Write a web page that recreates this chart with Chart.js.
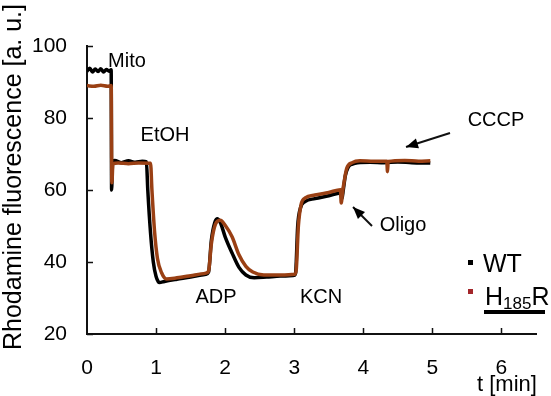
<!DOCTYPE html>
<html>
<head>
<meta charset="utf-8">
<script src="https://cdn.jsdelivr.net/npm/chart.js@4.4.1/dist/chart.umd.min.js"></script>
<style>
  body { margin: 0; background: #fff; }
  #wrap { width: 551px; height: 396px; }
</style>
</head>
<body>
<div id="wrap"><canvas id="c" width="551" height="396"></canvas></div>
<script>
// time [min] and rhodamine fluorescence [a. u.]
const wtT = [0, 0.04, 0.08, 0.12, 0.16, 0.2, 0.24, 0.28, 0.32, 0.35, 0.356, 0.37, 0.4, 0.5, 0.6, 0.7, 0.8, 0.86,
  0.88, 0.92, 0.96, 1.0, 1.05, 1.12, 1.3, 1.5, 1.72, 1.76, 1.8, 1.85, 1.89, 1.94, 2.0, 2.1, 2.2, 2.3, 2.42, 2.6, 2.8, 3.0,
  3.02, 3.05, 3.09, 3.16, 3.3, 3.5, 3.67, 3.69, 3.71, 3.74, 3.78, 3.84, 3.92, 4.1, 4.3, 4.5, 4.7, 4.97];
const wtV = [93.0, 93.8, 92.8, 93.6, 92.9, 93.7, 92.8, 93.5, 93.0, 93.4, 60.0, 67.5, 68.2, 67.6, 68.1, 67.7, 68.0, 67.8,
  60.0, 48.0, 40.0, 36.0, 34.3, 34.6, 35.2, 35.8, 36.6, 37.2, 46.0, 51.0, 52.0, 50.5, 47.0, 42.5, 38.5, 36.4, 35.6, 35.8, 36.1, 36.3,
  37.0, 50.0, 55.0, 56.8, 57.6, 58.4, 59.2, 57.5, 60.0, 64.0, 66.3, 67.2, 67.6, 67.7, 67.6, 67.8, 67.6, 67.5];

const mutT = [0, 0.1, 0.2, 0.3, 0.35, 0.36, 0.375, 0.45, 0.6, 0.75, 0.92,
  0.94, 0.98, 1.02, 1.08, 1.15, 1.3, 1.5, 1.72, 1.76, 1.8, 1.86, 1.93, 2.0, 2.1, 2.2, 2.3, 2.4, 2.56, 2.8, 3.01,
  3.03, 3.06, 3.1, 3.16, 3.3, 3.5, 3.67, 3.68, 3.7, 3.72, 3.76, 3.84, 3.95, 4.15, 4.34, 4.35, 4.36, 4.6, 4.8, 4.97];
const mutV = [89.0, 88.8, 89.1, 88.8, 89.0, 62.0, 67.2, 67.5, 67.3, 67.5, 67.4,
  60.0, 48.0, 41.0, 37.0, 35.3, 35.6, 36.2, 36.9, 37.5, 45.0, 50.5, 51.6, 50.2, 47.0, 42.0, 38.8, 37.2, 36.4, 36.4, 36.6,
  38.0, 50.0, 56.0, 57.8, 58.6, 59.3, 60.1, 56.4, 59.5, 62.0, 66.0, 67.6, 68.1, 68.0, 68.0, 65.1, 67.9, 68.2, 68.0, 68.1];

const xTicks = [0, 1, 2, 3, 4, 5, 6];
const yTicks = [20, 40, 60, 80, 100];

const FONT = '"Liberation Sans", Arial, sans-serif';
const BROWN = '#9a4014';

function pts(t, v) { return t.map((x, i) => ({ x: x, y: v[i] })); }

// ticks pointing into the plot, plus labels, arrows and legend
const extras = {
  id: 'extras',
  afterDraw(chart) {
    const ctx = chart.ctx;
    const xs = chart.scales.x, ys = chart.scales.y;
    const a = chart.chartArea;
    ctx.save();
    ctx.strokeStyle = '#111';
    ctx.lineWidth = 1.5;
    ctx.beginPath();
    xTicks.forEach(t => {
      if (t === 0) return;
      const px = Math.round(xs.getPixelForValue(t)) + 0.5;
      ctx.moveTo(px, a.bottom); ctx.lineTo(px, a.bottom - 6);
    });
    yTicks.forEach(v => {
      const py = Math.round(ys.getPixelForValue(v)) + 0.5;
      ctx.moveTo(a.left, py); ctx.lineTo(a.left + 6, py);
    });
    ctx.stroke();

    ctx.fillStyle = '#000';
    ctx.textAlign = 'center';
    ctx.textBaseline = 'middle';
    ctx.font = '20px ' + FONT;
    ctx.fillText('Mito', 127, 61);
    ctx.fillText('EtOH', 165, 135);
    ctx.fillText('ADP', 216, 297);
    ctx.fillText('KCN', 321, 297);
    ctx.fillText('Oligo', 403, 225);
    ctx.fillText('CCCP', 496, 120);

    function arrow(x1, y1, x2, y2) {
      ctx.beginPath();
      ctx.lineWidth = 2;
      ctx.moveTo(x1, y1); ctx.lineTo(x2, y2);
      ctx.stroke();
      const ang = Math.atan2(y2 - y1, x2 - x1);
      const L = 12, W = 5;
      ctx.beginPath();
      ctx.moveTo(x2, y2);
      ctx.lineTo(x2 - L * Math.cos(ang) + W * Math.sin(ang), y2 - L * Math.sin(ang) - W * Math.cos(ang));
      ctx.lineTo(x2 - L * Math.cos(ang) - W * Math.sin(ang), y2 - L * Math.sin(ang) + W * Math.cos(ang));
      ctx.closePath();
      ctx.fill();
    }
    arrow(372, 226, 353, 207);
    arrow(450, 133, 406, 147);

    // axis titles
    ctx.font = '22px ' + FONT;
    ctx.textAlign = 'left';
    ctx.textBaseline = 'alphabetic';
    ctx.fillText('t [min]', 477, 391);
    ctx.save();
    ctx.translate(14, 177);
    ctx.rotate(-Math.PI / 2);
    ctx.textAlign = 'center';
    ctx.textBaseline = 'middle';
    ctx.font = '25px ' + FONT;
    ctx.fillText('Rhodamine fluorescence [a. u.]', 0, 0);
    ctx.restore();

    // legend
    ctx.fillStyle = '#000';
    ctx.fillRect(468, 260, 5, 5);
    ctx.fillStyle = '#a3262a';
    ctx.fillRect(468, 289, 5, 5);
    ctx.fillStyle = '#000';
    ctx.font = '25px ' + FONT;
    ctx.fillText('WT', 483, 272);
    ctx.fillText('H', 485, 305);
    const hw = ctx.measureText('H').width;
    ctx.font = '17px ' + FONT;
    ctx.fillText('185', 485 + hw, 309);
    const sw = ctx.measureText('185').width;
    ctx.font = '25px ' + FONT;
    ctx.fillText('R', 485 + hw + sw, 305);
    ctx.fillRect(484, 310, 61, 4);
    ctx.restore();
  }
};

new Chart(document.getElementById('c'), {
  type: 'line',
  data: {
    datasets: [
      { label: 'WT', data: pts(wtT, wtV), borderColor: '#000', borderWidth: 3.5, order: 2 },
      { label: 'H185R', data: pts(mutT, mutV), borderColor: BROWN, borderWidth: 3.5, order: 1 }
    ]
  },
  options: {
    responsive: false,
    animation: false,
    elements: { point: { radius: 0 }, line: { cubicInterpolationMode: 'monotone' } },
    layout: { padding: { left: 0, top: 46, right: 15, bottom: 0 } },
    plugins: { legend: { display: false }, tooltip: { enabled: false } },
    scales: {
      x: {
        type: 'linear', min: 0, max: 6.5,
        afterFit: s => { s.height = 62; },
        ticks: { stepSize: 1, includeBounds: false, color: '#000', padding: 22, maxRotation: 0,
          font: { family: FONT, size: 21 } },
        grid: { display: false, drawTicks: false },
        border: { color: '#111', width: 2 }
      },
      y: {
        min: 20, max: 100,
        afterFit: s => { s.width = 87; },
        ticks: { stepSize: 20, color: '#000', padding: 20, font: { family: FONT, size: 21 } },
        grid: { display: false, drawTicks: false },
        border: { color: '#111', width: 2 }
      }
    }
  },
  plugins: [extras]
});
</script>
</body>
</html>
